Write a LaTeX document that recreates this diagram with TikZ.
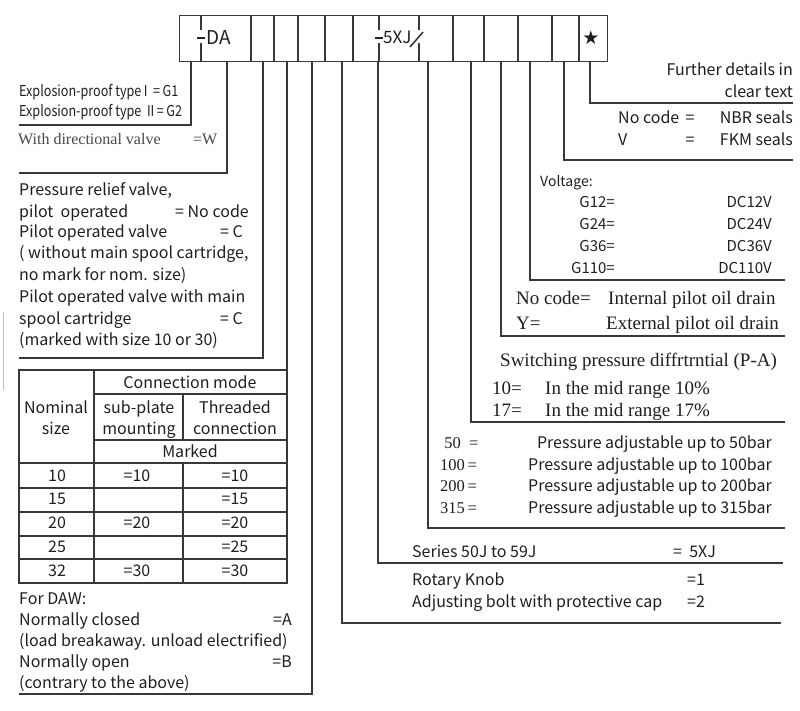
\documentclass[tikz,border=0pt]{standalone}
\usepackage{fontspec}
\newfontfamily\ssf{Noto Sans CJK SC}
\newfontfamily\ssfc{Noto Sans CJK SC}[FakeStretch=0.84]
\newfontfamily\srf{Liberation Serif}
\newfontfamily\symf{DejaVu Sans}
\begin{document}
\begin{tikzpicture}[x=1pt,y=-1pt,
  ln/.style={line width=1.4pt, draw=black!78},
  tln/.style={line width=1.1pt, draw=black!78},
  txt/.style={inner sep=0pt, text=black!88},
  sl/.style={txt, anchor=base west, font=\ssf\fontsize{16}{16}\selectfont},
  sr/.style={txt, anchor=base east, font=\ssf\fontsize{16}{16}\selectfont},
  sc/.style={txt, anchor=base, font=\ssf\fontsize{16}{16}\selectfont},
  rl/.style={txt, anchor=base west, font=\srf\fontsize{19}{19}\selectfont},
  cl/.style={txt, anchor=base west, font=\ssfc\fontsize{15}{15}\selectfont},
]
\useasboundingbox (0,0) rectangle (800,711);
\fill[white] (0,0) rectangle (800,711);

% ---------------- header ----------------
\node[ln, draw, anchor=north west, minimum width=428pt, minimum height=46pt, inner sep=0pt] (hdr) at (179,15) {};
\foreach \xx in {251,274,298,325,353,453,484,518,552,579}
  \draw[ln] (\xx,15) -- (\xx,61);
% partial dividers
\draw[ln] (201,15) -- (201,30) (201,43) -- (201,61);
\draw[ln] (379,15) -- (379,30) (379,43) -- (379,61);
\draw[ln] (419,15) -- (419,30) (419,43) -- (419,61);
\draw[line width=1.2pt, black!85] (197,38) -- (205,38);
\draw[line width=1.2pt, black!85] (375,38) -- (383,38);
\draw[line width=1.4pt, black!85] (410,47) -- (423,32);
\node[txt, anchor=base west, font=\ssf\fontsize{19}{19}\selectfont] (hDA) at (206,45) {DA};
\node[txt, anchor=base west, font=\ssf\fontsize{17}{17}\selectfont] (h5XJ) at (383,44) {5XJ};
\node[txt, font=\symf\fontsize{19}{19}\selectfont] (hstar) at (591,38) {★};

% connector start points
\foreach \nm/\xx in {a/191,b/227,c/263,d/287,e/312,f/342,g/378,h/428,i/471,j/501,k/530,l/564,m/590}
  \coordinate (s\nm) at (\xx,61);
\coordinate (ea) at (19,125);
\coordinate (eb) at (19,173);
\coordinate (ec) at (19,358);
\coordinate (ed) at (287,370);
\coordinate (ee) at (19,694);
\coordinate (ef) at (781,623);
\coordinate (eg) at (783,563);
\coordinate (eh) at (785,528);
\coordinate (ei) at (785,422);
\coordinate (ej) at (785,336);
\coordinate (ek) at (785,280);
\coordinate (el) at (793,160);
\coordinate (em) at (793,103);
\draw[ln] (sa) |- (ea);
\draw[ln] (sb) |- (eb);
\draw[ln] (sc) |- (ec);
\draw[ln] (sd) -- (ed);
\draw[ln] (se) |- (ee);
\draw[ln] (sf) |- (ef);
\draw[ln] (sg) |- (eg);
\draw[ln] (sh) |- (eh);
\draw[ln] (si) |- (ei);
\draw[ln] (sj) |- (ej);
\draw[ln] (sk) |- (ek);
\draw[ln] (sl) |- (el);
\draw[ln] (sm) |- (em);

% faint scan mark
\draw[black!25, line width=0.8pt] (3,312) -- (3,390);

% ---------------- left texts ----------------
\node[cl] (g1) at (19,97) {Explosion-proof type\,I\ \ =\,G1};
\node[cl] (g2) at (19,117) {Explosion-proof type\ \ II\,=\,G2};
\node[rl, text=black!72, font=\srf\fontsize{16}{16}\selectfont] (w1) at (18,144.5) {With directional valve};
\node[rl, text=black!72, font=\srf\fontsize{16}{16}\selectfont] (w2) at (193,144.5) {=W};

\node[sl] (p1) at (19,195.5) {Pressure relief valve,};
\node[sl] (p2) at (19,217.5) {pilot\ \ operated};
\node[sl] (p2b) at (175,217.5) {= No code};
\node[sl] (p3) at (19,237.5) {Pilot operated valve};
\node[sr] (p3b) at (243,237.5) {= C};
\node[sl] (p4) at (19,258.5) {( without main spool cartridge,};
\node[sl] (p5) at (19,280.5) {no mark for nom. size)};
\node[sl] (p6) at (19,302.5) {Pilot operated valve with main};
\node[sl] (p7) at (19,324.5) {spool cartridge};
\node[sr] (p7b) at (243,324.5) {= C};
\node[sl] (p8) at (19,345.5) {(marked with size 10 or 30)};

% ---------------- table ----------------
\draw[tln] (19,370) rectangle (287,583);
\draw[tln] (94,370) -- (94,583);
\draw[tln] (94,394) -- (287,394);
\draw[tln] (94,440) -- (287,440);
\foreach \yy in {463,488,512,536,559} \draw[tln] (19,\yy) -- (287,\yy);
\draw[tln] (183,394) -- (183,440);
\draw[tln] (183,463) -- (183,583);
\node[sc] (tcm) at (190,388.5) {Connection mode};
\node[sc] (tn1) at (56,413.5) {Nominal};
\node[sc] (tn2) at (56,434.5) {size};
\node[sc] (ts1) at (139,413.5) {sub-plate};
\node[sc] (ts2) at (139,434.5) {mounting};
\node[sc] (tt1) at (235,413.5) {Threaded};
\node[sc] (tt2) at (235,434.5) {connection};
\node[sc] (tmk) at (190,457.5) {Marked};
\foreach \yy/\a/\b/\c [count=\k] in {476/10/=10/=10, 499/15//=15, 523/20/=20/=20, 547/25//=25, 571/32/=30/=30}{
  \node[sc] (ra\k) at (57,\yy+5.5) {\a};
  \node[sc] (rb\k) at (137,\yy+5.5) {\b};
  \node[sc] (rc\k) at (235,\yy+5.5) {\c};
}

% ---------------- bottom-left ----------------
\node[sl] (d1) at (19,604) {For DAW:};
\node[sl] (d2) at (19,625) {Normally closed};
\node[sr] (d2b) at (292,625) {=A};
\node[sl] (d3) at (19,646) {(load breakaway. unload electrified)};
\node[sl] (d4) at (19,667.5) {Normally open};
\node[sr] (d4b) at (292,667.5) {=B};
\node[sl] (d5) at (19,688.5) {(contrary to the above)};

% ---------------- right texts ----------------
\node[sr] (f1) at (793,75.5) {Further details in};
\node[sr] (f2) at (793,97.5) {clear text};
\node[sl] (n1) at (618,123.5) {No code};
\node[sc] (n1e) at (690,123.5) {=};
\node[sr] (n1r) at (793,123.5) {NBR seals};
\node[sl] (n2) at (618,145.5) {V};
\node[sc] (n2e) at (690,145.5) {=};
\node[sr] (n2r) at (793,145.5) {FKM seals};

\node[sl, font=\ssf\fontsize{14}{14}\selectfont] (v0) at (540,187) {Voltage:};
\foreach \yy/\a/\b [count=\k] in {203/G12=/DC12V, 225/G24=/DC24V, 247/G36=/DC36V, 268/G110=/DC110V}{
  \node[sr, font=\ssf\fontsize{15}{15}\selectfont] (va\k) at (615,\yy+5) {\a};
  \node[sr, font=\ssf\fontsize{15}{15}\selectfont] (vb\k) at (772,\yy+5) {\b};
}

\node[rl] (o1) at (516,304) {No code=};
\node[rl] (o1r) at (608,304) {Internal pilot oil drain};
\node[rl] (o2) at (516,329) {Y=};
\node[rl] (o2r) at (606,329) {External pilot oil drain};

\node[rl] (sw) at (500,366) {Switching pressure diffrtrntial (P-A)};
\node[rl] (m1) at (492,394) {10=};
\node[rl] (m1r) at (545,394) {In the mid range 10\%};
\node[rl] (m2) at (492,416) {17=};
\node[rl] (m2r) at (545,416) {In the mid range 17\%};

\foreach \yy/\a/\b [count=\k] in {443/\ 50\ \ =/50, 465/100\,=/100, 486/200\,=/200, 508/315\,=/315}{
  \node[rl, font=\srf\fontsize{16.5}{16.5}\selectfont] (pa\k) at (440,\yy+5) {\a};
  \node[sr] (pb\k) at (772,\yy+5.5) {Pressure adjustable up to \b bar};
}

\node[sl] (se1) at (412,557.5) {Series 50J to 59J};
\node[sl] (se2) at (673,557.5) {=\ \ 5XJ};
\node[sl] (rk1) at (412,585.5) {Rotary Knob};
\node[sl] (rk1b) at (687,585.5) {=1};
\node[sl] (rk2) at (412,607.5) {Adjusting bolt with protective cap};
\node[sl] (rk2b) at (687,607.5) {=2};
\end{tikzpicture}
\end{document}
